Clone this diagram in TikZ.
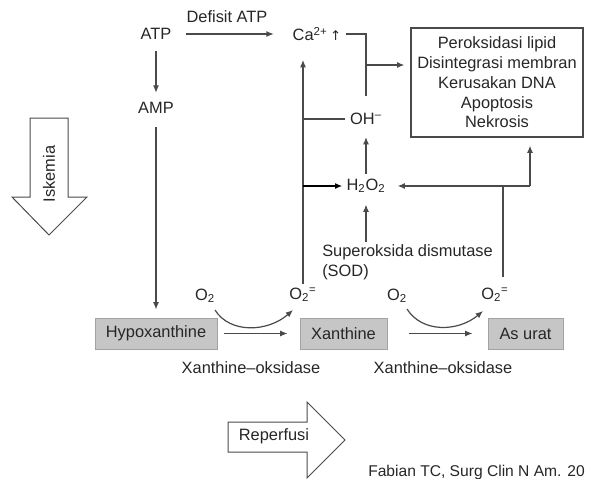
\documentclass[tikz,border=0pt]{standalone}
\usepackage{fontspec}
\setmainfont{Liberation Sans}
\newfontfamily\symfont{DejaVu Sans}
\usetikzlibrary{arrows.meta}
\definecolor{ink}{HTML}{262626}
\definecolor{wire}{HTML}{4A4A4A}
\definecolor{shade}{HTML}{C6C6C6}
\definecolor{shadeline}{HTML}{A2A2A2}
\begin{document}
\begin{tikzpicture}[x=0.75pt,y=-0.75pt,
  font=\fontsize{12.3}{14.8}\selectfont,
  lab/.style={inner sep=0pt, text=ink},
  line/.style={draw=wire, line width=0.9pt},
  arr/.style={line, -{Latex[length=5.5pt,width=4.5pt]}},
  enzbox/.style={lab, draw=shadeline, fill=shade, line width=0.75pt, minimum height=23.25pt},
  block/.style={draw=wire, line width=0.75pt, fill=white}]
\useasboundingbox (0,0) rectangle (590,479);

% energy branch
\node[lab] (atp) at (156,34) {ATP};
\node[lab] (defisit) at (227,17) {Defisit ATP};
\node[lab] (ca) at (317,34) {Ca\textsuperscript{2+}\,{\symfont\fontsize{10}{12}\selectfont ↑}};
\node[lab] (amp) at (156,108) {AMP};

% damage box
\node[lab, draw=wire, line width=0.9pt, minimum width=129pt, minimum height=81.75pt, align=center]
  (box) at (497,82.5) {Peroksidasi lipid\\Disintegrasi membran\\Kerusakan DNA\\Apoptosis\\Nekrosis};

% radicals
\node[lab] (oh) at (366,119) {OH\textsuperscript{–}};
\node[lab] (h2o2) at (366,186) {H\textsubscript{2}O\textsubscript{2}};
\node[lab, anchor=west, align=left] (sod) at (322,262) {Superoksida dismutase\\(SOD)};

% purine pathway
\node[enzbox, minimum width=91.5pt] (hypo) at (156,333.5) {Hypoxanthine};
\node[enzbox, minimum width=65.25pt] (xan) at (343.5,333.5) {Xanthine};
\node[enzbox, minimum width=56.25pt] (urat) at (525.5,333.5) {As urat};

\node[lab] (o2a) at (205,296) {O\textsubscript{2}};
\node[lab] (o2b) at (303,295) {O\textsubscript{2}\textsuperscript{=}};
\node[lab] (o2c) at (397,296) {O\textsubscript{2}};
\node[lab] (o2d) at (495,295) {O\textsubscript{2}\textsuperscript{=}};

\node[lab] (xo1) at (251,368) {Xanthine–oksidase};
\node[lab] (xo2) at (443,368) {Xanthine–oksidase};

% junction points
\coordinate (jn) at (366,65);
\coordinate (jr) at (530,186);
\coordinate (jd) at (503,186);
\coordinate (k1s) at (215,310);
\coordinate (k1e) at (293,310);
\coordinate (k2s) at (407,309);
\coordinate (k2e) at (483,311);

% connectors
\draw[arr, shorten <=11pt, shorten >=14pt] (atp.east) -- (atp.east -| ca.west);
\draw[arr, shorten <=8.5pt, shorten >=7pt] (atp.south) -- (amp.north);
\draw[arr, shorten <=10pt, shorten >=6pt] (amp.south) -- (hypo.north);

\draw[line, shorten <=3pt, shorten >=13pt] (ca.east) -- (ca.east -| oh.north) -- (oh.north);
\draw[arr, shorten >=4.5pt] (jn) -- (jn -| box.west);

\draw[arr, shorten <=3pt, shorten >=14pt] (o2b.north) -- (o2b.north |- ca.south);
\draw[line, shorten >=3.75pt] (o2b.north |- oh.west) -- (oh.west);
\draw[arr, shorten <=3.5pt, shorten >=9pt] (h2o2.north) -- (oh.south);
\draw[arr, draw=black, line width=1.3pt, shorten >=3pt] (o2b.north |- h2o2.west) -- (h2o2.west);
\draw[arr, shorten <=2pt, shorten >=8.5pt] (sod.north -| h2o2.south) -- (h2o2.south);

\draw[arr, shorten >=6pt] (jr) -- (jr |- box.south);
\draw[arr, shorten >=9pt] (jr) -- (jr -| h2o2.east);
\draw[line, shorten <=8pt] (o2d.north -| jd) -- (jd);

\draw[arr, shorten <=4.5pt, shorten >=9pt] (hypo.east) -- (xan.west);
\draw[arr, shorten <=15.75pt, shorten >=11.25pt] (xan.east) -- (urat.west);
\draw[arr] (k1s) .. controls +(15,24) and +(-25,22) .. (k1e);
\draw[arr] (k2s) .. controls +(15,24) and +(-25,21) .. (k2e);

% phase arrows
\draw[block] (30,118) -- (68,118) -- (68,197) -- (87,197) -- (49,235) -- (12,197) -- (30,197) -- cycle;
\node[lab, rotate=90] (iskemia) at (49,174) {Iskemia};
\draw[block] (228,422) -- (307,422) -- (307,402) -- (345,440) -- (307,478) -- (307,452) -- (228,452) -- cycle;
\node[lab] (reperfusi) at (274,436) {Reperfusi};

\node[lab, anchor=base west, font=\fontsize{11.7}{14}\selectfont] (cite) at (368,476) {Fabian TC, Surg Clin N Am. 20};
\end{tikzpicture}
\end{document}
